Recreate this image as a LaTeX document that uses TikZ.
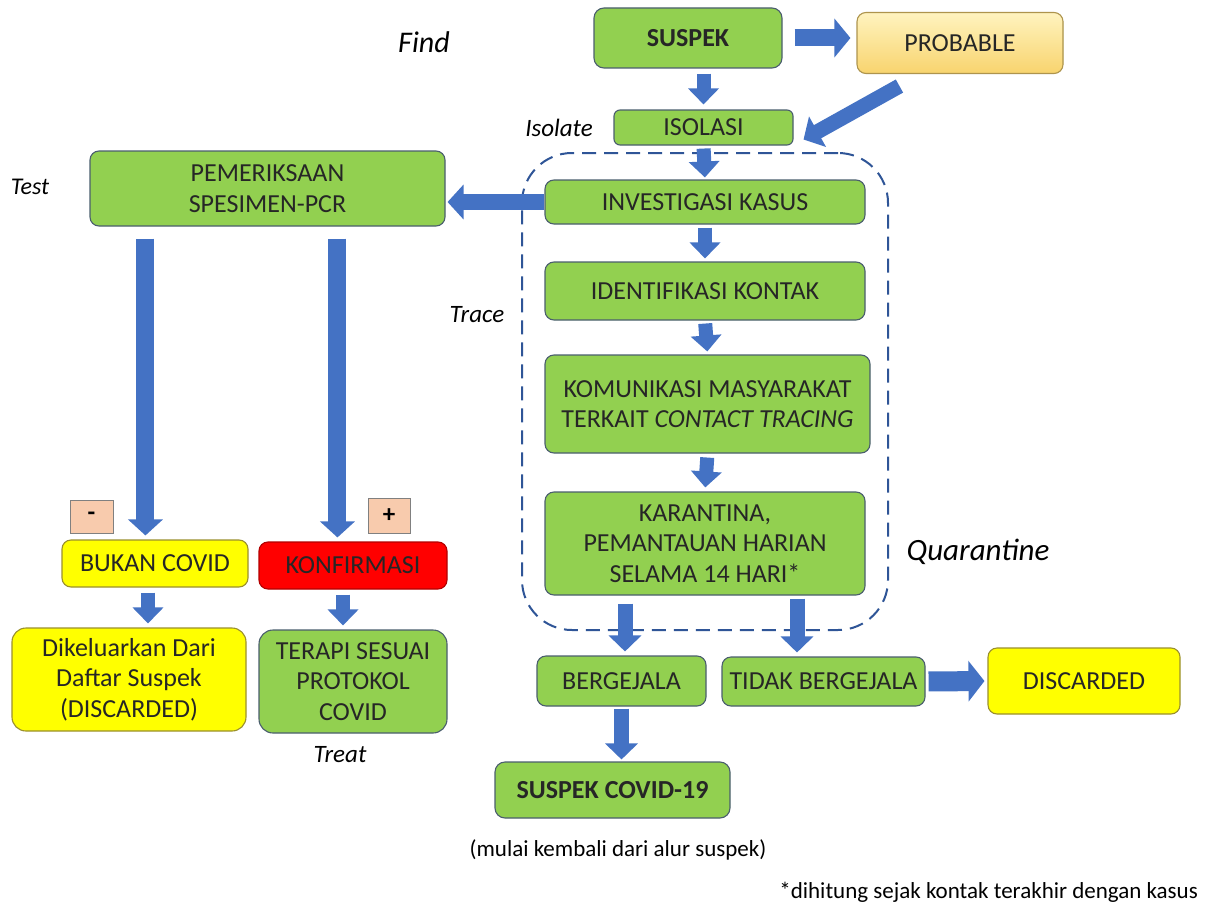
\documentclass[tikz,border=0pt]{standalone}
\usepackage{fontspec}
\setmainfont{Carlito}
\usetikzlibrary{arrows.meta,calc,shadows}
\definecolor{gr}{HTML}{92D050}
\definecolor{bd}{HTML}{4A5E6E}
\definecolor{ab}{HTML}{4472C4}
\definecolor{yl}{HTML}{FFFF00}
\definecolor{ybd}{HTML}{9A8F2E}
\definecolor{rd}{HTML}{FF0000}
\definecolor{pc}{HTML}{F8CBAD}
\definecolor{dsh}{HTML}{2F5597}
\definecolor{pt}{HTML}{FFF3BF}
\definecolor{pb}{HTML}{F8D46E}
\tikzset{
  bx/.style={draw=bd, line width=1.1pt, rounded corners=9pt, fill=gr, inner sep=0pt, align=center,
    font=\fontsize{26}{30.5}\selectfont, text=black!85},
  ybx/.style={bx, fill=yl, draw=ybd},
  sgn/.style={draw=black!50, line width=1pt, fill=pc, inner sep=0pt, font=\fontsize{25}{30}\selectfont\bfseries},
  lbl/.style={font=\fontsize{25}{30}\selectfont\itshape, inner sep=0pt},
  ba/.style 2 args={draw=ab, line width=#1, -{Triangle[width=#2,length=16pt]}},
}
\begin{document}
\begin{tikzpicture}[x=1pt,y=-1pt]
\useasboundingbox[fill=white] (0,0) rectangle (1207,907);
% quarantine dashed region
\node[draw=dsh, line width=2pt, dash pattern=on 14pt off 8pt, rounded corners=50pt,
  minimum width=366pt, minimum height=477pt] (qbox) at (705,391.5) {};
% nodes
\node[bx, font=\fontsize{26}{30}\selectfont\bfseries, minimum width=188pt, minimum height=60pt, rounded corners=10pt] (suspek) at (688,38) {SUSPEK};
\node[bx, draw=pb!70!black, top color=pt, bottom color=pb, minimum width=206pt, minimum height=61pt] (probable) at (960,43) {PROBABLE};
\node[bx, minimum width=179pt, minimum height=35pt, rounded corners=6pt] (isolasi) at (703.5,127.5) {ISOLASI};
\node[bx, minimum width=320pt, minimum height=44pt] (invest) at (705,202) {INVESTIGASI KASUS};
\node[bx, minimum width=355pt, minimum height=75pt] (pem) at (267.5,188.5) {PEMERIKSAAN\\SPESIMEN-PCR};
\node[bx, minimum width=320pt, minimum height=58pt] (ident) at (705,291) {IDENTIFIKASI KONTAK};
\node[bx, minimum width=325pt, minimum height=98pt] (komun) at (707.5,404) {KOMUNIKASI MASYARAKAT\\TERKAIT \textit{CONTACT TRACING}};
\node[bx, minimum width=320pt, minimum height=103pt] (karan) at (705,543.5) {KARANTINA,\\PEMANTAUAN HARIAN\\SELAMA 14 HARI*};
\node[bx, minimum width=169pt, minimum height=50pt] (berg) at (621.5,681) {BERGEJALA};
\node[bx, minimum width=203pt, minimum height=49pt] (tidak) at (823.5,681.5) {TIDAK BERGEJALA};
\node[ybx, minimum width=192pt, minimum height=66pt] (disc) at (1084,681) {DISCARDED};
\node[bx, font=\fontsize{26}{30}\selectfont\bfseries, minimum width=235pt, minimum height=56pt, rounded corners=10pt] (scovid) at (612.5,790) {SUSPEK COVID-19};
\node[sgn, minimum width=43pt, minimum height=33pt] (minus) at (91.5,516.5) {-};
\node[sgn, minimum width=42pt, minimum height=35pt] (plus) at (389,515.5) {+};
\node[ybx, minimum width=186pt, minimum height=47pt] (bukan) at (155,563.5) {BUKAN COVID};
\node[bx, fill=rd, draw=rd!70!black, minimum width=188pt, minimum height=47pt] (konf) at (353,565.5) {KONFIRMASI};
\node[ybx, minimum width=234pt, minimum height=103pt, rounded corners=14pt] (dikel) at (129,679.5) {Dikeluarkan Dari\\Daftar Suspek\\(DISCARDED)};
\node[bx, minimum width=188pt, minimum height=103pt, rounded corners=14pt] (terapi) at (353,681.5) {TERAPI SESUAI\\PROTOKOL\\COVID};
% labels
\node[lbl, font=\fontsize{30}{36}\selectfont\itshape] (find) at (424,42) {Find};
\node[lbl] (isol) at (559,128) {Isolate};
\node[lbl, font=\fontsize{24}{29}\selectfont\itshape] (test) at (30,187) {Test};
\node[lbl] (trace) at (477,315) {Trace};
\node[lbl, font=\fontsize{31}{37}\selectfont\itshape] (quar) at (978,552) {Quarantine};
\node[lbl] (treat) at (340,755) {Treat};
\node[inner sep=0pt, font=\fontsize{23}{28}\selectfont] (mulai) at (618,850) {(mulai kembali dari alur suspek)};
\node[inner sep=0pt, anchor=east, font=\fontsize{23}{28}\selectfont] (foot) at (1198,892) {*dihitung sejak kontak terakhir dengan kasus};
% arrows
\draw[ba={17pt}{38pt}, shorten <=12pt, shorten >=6pt] (suspek.east) -- (suspek.east -| probable.west);
\draw[ba={14pt}{30pt}, shorten <=5pt, shorten >=5pt] (isolasi.north |- suspek.south) -- (isolasi.north);
\coordinate (p1) at ($(probable.south west)+(43,12)$);
\coordinate (p2) at ($(isolasi.east)+(10,12)$);
\draw[ba={15pt}{34pt}] (p1) -- (p2);
\draw[ba={14pt}{30pt}, shorten <=3pt, shorten >=2pt] (isolasi.south) -- (invest.north);
\draw[ba={16pt}{34pt}, shorten >=2pt] (invest.west) -- (invest.west -| pem.east);
\draw[ba={14pt}{30pt}, shorten <=3pt, shorten >=3pt] (invest.south) -- (ident.north);
\draw[ba={14pt}{30pt}, shorten <=3pt, shorten >=3pt] (ident.south) -- (komun.north);
\draw[ba={14pt}{30pt}, shorten <=4pt, shorten >=4pt] (komun.south) -- (karan.north);
\coordinate (k1) at ($(karan.south)+(-80,8)$);
\draw[ba={15pt}{32pt}, shorten >=4pt] (k1) -- (k1 |- berg.north);
\coordinate (k2) at ($(karan.south)+(92,3)$);
\draw[ba={15pt}{32pt}, shorten >=4pt] (k2) -- (k2 |- tidak.north);
\draw[ba={20pt}{40pt}, shorten <=3pt, shorten >=3pt] (tidak.east) -- (disc.west);
\draw[ba={15pt}{32pt}, shorten <=2pt, shorten >=2pt] (berg.south) -- (berg.south |- scovid.north);
\coordinate (a1) at ($(pem.south west)+(56,12)$);
\draw[ba={18pt}{34pt}, shorten >=4pt] (a1) -- (a1 |- bukan.north);
\coordinate (a2) at ($(pem.south west)+(248,12)$);
\draw[ba={18pt}{34pt}, shorten >=4pt] (a2) -- (a2 |- konf.north);
\coordinate (b1) at ($(bukan.south)+(-7,5)$);
\draw[ba={14pt}{30pt}, shorten >=4pt] (b1) -- (b1 |- dikel.north);
\coordinate (b2) at ($(konf.south)+(-10,5)$);
\draw[ba={14pt}{30pt}, shorten >=4pt] (b2) -- (b2 |- terapi.north);
\end{tikzpicture}
\end{document}
